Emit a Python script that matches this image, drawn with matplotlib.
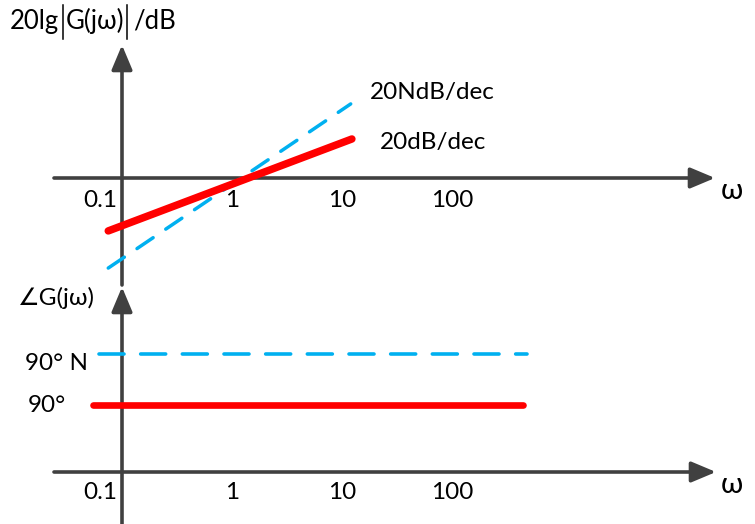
import numpy as np
import matplotlib
matplotlib.use('Agg')
import matplotlib.pyplot as plt

plt.rcParams['font.family'] = ['Lato', 'DejaVu Sans']
plt.rcParams['lines.scale_dashes'] = False

# ---------------- data ----------------
tick_omega = [0.1, 1, 10, 100]
tick_labels = ['0.1', '1', '10', '100']

mag_red_omega = [0.075, 12.3]      # 20 dB/dec asymptote
mag_red_db = [-25.5, 18.8]
mag_blue_omega = [0.075, 12.0]     # 20N dB/dec asymptote
mag_blue_db = [-43.4, 35.7]

phase_red_omega = [0.055, 442]
phase_red_deg = [90, 90]
phase_blue_omega = [0.062, 479]
phase_blue_deg = [158, 158]

# ---------------- layout ----------------
W, H = 755, 524
fig = plt.figure(figsize=(W / 100, H / 100), dpi=100)

px_per_dec = 110.0
x01_px = 122.0            # pixel position of omega = 0.1
xlo = 10 ** (-1 - x01_px / px_per_dec)
xhi = 10 ** (-1 + (W - x01_px) / px_per_dec)

AX_COL = '#404040'
RED = '#FF0000'
BLUE = '#00B0F0'
FS = 17.5

split_px = 285
ax1 = fig.add_axes([0, (H - split_px) / H, 1, split_px / H])
ax2 = fig.add_axes([0, 0, 1, (H - split_px) / H])

# magnitude axes: 0 dB at pixel 178, 2.075 px per dB
zero1 = 178.0
pxdb = 2.075
ax1.set_xscale('log')
ax1.set_xlim(xlo, xhi)
ax1.set_ylim(-(split_px - zero1) / pxdb, zero1 / pxdb)

# phase axes: 0 deg at pixel 472, 67 px per 90 deg
zero2 = 472.0
pxdeg = 67.0 / 90.0
ax2.set_xscale('log')
ax2.set_xlim(xlo, xhi)
ax2.set_ylim(-(H - zero2) / pxdeg, (zero2 - split_px) / pxdeg)

for ax in (ax1, ax2):
    ax.axis('off')

arrow_kw = dict(arrowstyle='-|>,head_length=1.0,head_width=0.42',
                color=AX_COL, lw=2.6, mutation_scale=15,
                shrinkA=0, shrinkB=0)

# horizontal axes with arrows
ax1.annotate('', xy=(715 / W, 0), xytext=(54 / W, 0),
             xycoords=('axes fraction', 'data'), arrowprops=arrow_kw)
ax2.annotate('', xy=(716 / W, 0), xytext=(54 / W, 0),
             xycoords=('axes fraction', 'data'), arrowprops=arrow_kw)
# vertical axes with arrows
ax1.annotate('', xy=(0.1, (split_px - 45) / split_px), xytext=(0.1, 0),
             xycoords=('data', 'axes fraction'), arrowprops=arrow_kw)
ax2.annotate('', xy=(0.1, (H - 287) / (H - split_px)), xytext=(0.1, 0),
             xycoords=('data', 'axes fraction'), arrowprops=arrow_kw)

# magnitude asymptotes
ax1.plot(mag_blue_omega, mag_blue_db, color=BLUE, lw=2.5,
         dashes=(14, 11), dash_capstyle='round', zorder=3)
ax1.plot(mag_red_omega, mag_red_db, color=RED, lw=5.4,
         solid_capstyle='round', zorder=4)

# phase lines
ax2.plot(phase_blue_omega, phase_blue_deg, color=BLUE, lw=2.6,
         dashes=(18, 12), dash_capstyle='round', zorder=3)
ax2.plot(phase_red_omega, phase_red_deg, color=RED, lw=4.8,
         solid_capstyle='round', zorder=4)

# tick labels
for ax, dy in ((ax1, -16.5), (ax2, -14.5)):
    for w, lab in zip(tick_omega, tick_labels):
        if lab == '0.1':
            ax.annotate(lab, xy=(w, 0), xytext=(-3.5, dy), textcoords='offset points',
                        ha='right', va='center', fontsize=FS, color='black')
        else:
            ax.annotate(lab, xy=(w, 0), xytext=(0, dy), textcoords='offset points',
                        ha='center', va='center', fontsize=FS, color='black')


def ftext(xp, yp, s, ha='left', fs=FS, **kw):
    fig.text(xp / W, 1 - yp / H, s, ha=ha, va='center', fontsize=fs,
             color='black', **kw)


# title: 20lg |G(jω)| /dB with tall bars
ftext(10, 21, '20lg', fs=18.5)
ftext(66, 21, 'G(jω)', fs=18.5)
ftext(133, 21, '/dB', fs=18.5)
for bx in (63, 127):
    fig.add_artist(plt.Line2D([bx / W, bx / W], [1 - 5 / H, 1 - 39 / H],
                              color='black', lw=1.1, transform=fig.transFigure))

ftext(370, 93, '20NdB/dec')
ftext(380, 143, '20dB/dec')
ftext(732, 191, 'ω', ha='center', fs=21)
ftext(18, 298, '∠G(jω)')
ftext(25, 364, '90° N')
ftext(28, 406, '90°')
ftext(732, 485, 'ω', ha='center', fs=21)

fig.savefig('out.png', dpi=100)
